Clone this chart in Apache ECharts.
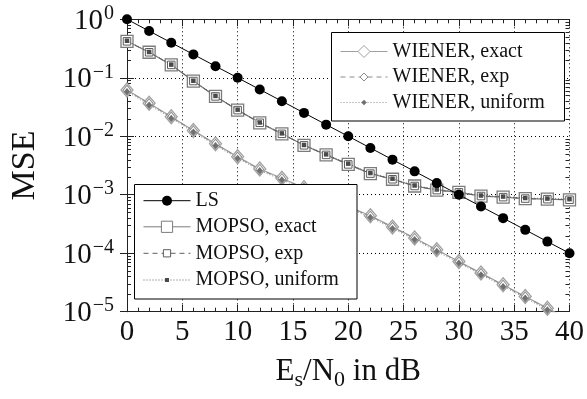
<!DOCTYPE html>
<html><head><meta charset="utf-8">
<script src="https://cdn.jsdelivr.net/npm/echarts@6/dist/echarts.min.js"></script>
<style>html,body{margin:0;padding:0;background:#fff}#c{width:587px;height:399px}</style>
</head><body><div id="c"></div>
<script>
// ---- data ----
const snr = [0,2,4,6,8,10,12,14,16,18,20,22,24,26,28,30,32,34,36,38,40];
const lsMse = [1,0.631,0.398,0.251,0.158,0.1,0.0631,0.0398,0.0251,0.0158,0.01,0.00631,0.00398,0.00251,0.00158,0.001,0.000631,0.000398,0.000251,0.000158,0.0001];
const mopsoExact = [0.42,0.273,0.166,0.088,0.048,0.028,0.017,0.011,0.0070,0.0048,0.0033,0.0023,0.00184,0.00141,0.0012,0.0011,0.00095,0.00091,0.00086,0.00084,0.00082];
const mopsoExp = [0.42,0.273,0.166,0.088,0.048,0.028,0.017,0.011,0.0070,0.0048,0.0033,0.0023,0.00184,0.00141,0.0012,0.0011,0.00095,0.00091,0.00086,0.00084,0.00082];
const mopsoUniform = [0.43,0.276,0.168,0.089,0.049,0.0285,0.0172,0.0112,0.0071,0.0049,0.0034,0.00235,0.00188,0.00144,0.00123,0.00112,0.00097,0.00093,0.00088,0.00086,0.00084];
const wienerExact = [0.0617,0.0366,0.0216,0.0126,0.00741,0.00447,0.00275,0.00191,0.00132,0.000912,0.000631,0.000437,0.000282,0.000182,0.000115,0.0000724,0.0000457,0.0000288,0.0000182,0.0000115,0.0000072];
const wienerExp = [0.0612,0.0362,0.0213,0.0124,0.00732,0.00441,0.00271,0.00188,0.0013,0.0009,0.000622,0.00043,0.000278,0.000179,0.000113,0.0000713,0.000045,0.0000284,0.0000179,0.0000113,0.0000071];
const wienerUniform = [0.058,0.0344,0.0203,0.0118,0.00697,0.0042,0.00259,0.0018,0.00124,0.000857,0.000593,0.000411,0.000265,0.000171,0.000108,0.000068,0.000043,0.0000271,0.0000171,0.0000108,0.0000068];
const xTickValues = [0,5,10,15,20,25,30,35,40];
const yDecadeExponents = [-5,-4,-3,-2,-1,0];
const yMinorMultipliers = [2,3,4,5,6,7,8,9];

// ---- styling ----
const FONT = "'Liberation Serif','Times New Roman',serif";
const AX = '#222';
const xMin = xTickValues[0], xMax = xTickValues[xTickValues.length - 1];
const yMinExp = yDecadeExponents[0], yMaxExp = yDecadeExponents[yDecadeExponents.length - 1];
const pts = arr => snr.map((x, i) => [x, arr[i]]);

// minor tick values on the log axis (2..9 x each decade)
const yMinorTicks = [];
yDecadeExponents.slice(0, -1).forEach(e => yMinorMultipliers.forEach(m => yMinorTicks.push([xMin, m * Math.pow(10, e)])));

const chart = echarts.init(document.getElementById('c'), null, {renderer: 'canvas'});

function supLabel(v) {
  const e = Math.round(Math.log10(v));
  return '{b|10}{s|' + (e < 0 ? '\u2212' + (-e) : String(e)) + '}';
}

const commonX = {
  type: 'value', min: xMin, max: xMax, interval: 5,
  axisLine: {show: true, lineStyle: {color: AX, width: 1}},
  axisTick: {show: true, inside: true, length: 7, lineStyle: {color: AX}},
  minorTick: {show: true, splitNumber: 5, length: 4, lineStyle: {color: AX}},
  splitLine: {show: false}
};
const commonY = {
  type: 'log', logBase: 10, min: Math.pow(10, yMinExp), max: Math.pow(10, yMaxExp),
  axisLine: {show: true, lineStyle: {color: AX, width: 1}},
  axisTick: {show: true, inside: true, length: 7, lineStyle: {color: AX}},
  splitLine: {show: false}
};

function lineSeries(name, arr, o) {
  return Object.assign({
    name, type: 'line', data: pts(arr), clip: true,
    emphasis: {disabled: true}, animation: false
  }, o);
}

const GRAY1 = '#7c7c7c', GRAY2 = '#5e5e5e', DARK = '#4a4a4a';
const WG1 = '#a0a0a0', WG2 = '#8c8c8c', WDARK = '#707070';

const series = [
  {
    type: 'custom', data: yMinorTicks, silent: true, animation: false, z: 1,
    renderItem: function (params, api) {
      const v = api.value(1);
      const pl = api.coord([xMin, v]);
      const pr = api.coord([xMax, v]);
      const y = Math.round(pl[1]) + 0.5;
      return {type: 'group', children: [
        {type: 'line', shape: {x1: pl[0], y1: y, x2: pl[0] + 4, y2: y}, style: {stroke: AX, lineWidth: 1}},
        {type: 'line', shape: {x1: pr[0] - 4, y1: y, x2: pr[0], y2: y}, style: {stroke: AX, lineWidth: 1}}
      ]};
    }
  },
  lineSeries('WIENER, exact', wienerExact, {symbol: 'diamond', symbolSize: [12, 14],
    itemStyle: {color: '#fff', borderColor: WG1, borderWidth: 1.3}, lineStyle: {color: WG1, width: 1.2}, z: 2}),
  lineSeries('WIENER, exp', wienerExp, {symbol: 'diamond', symbolSize: [8, 10],
    itemStyle: {color: '#fff', borderColor: WG2, borderWidth: 1}, lineStyle: {color: WG2, width: 1, type: [5, 4]}, z: 3}),
  lineSeries('WIENER, uniform', wienerUniform, {symbol: 'diamond', symbolSize: [6, 7],
    itemStyle: {color: WDARK}, lineStyle: {color: WG2, width: 1, type: [1, 2]}, z: 4}),
  lineSeries('MOPSO, exact', mopsoExact, {symbol: 'rect', symbolSize: 12,
    itemStyle: {color: '#fff', borderColor: GRAY1, borderWidth: 1.3}, lineStyle: {color: GRAY1, width: 1.2}, z: 5}),
  lineSeries('MOPSO, exp', mopsoExp, {symbol: 'rect', symbolSize: 7.5,
    itemStyle: {color: '#fff', borderColor: GRAY2, borderWidth: 1}, lineStyle: {color: GRAY2, width: 1, type: [5, 4]}, z: 6}),
  lineSeries('MOPSO, uniform', mopsoUniform, {symbol: 'rect', symbolSize: 4.5,
    itemStyle: {color: DARK}, lineStyle: {color: GRAY2, width: 1, type: [1, 2]}, z: 7}),
  lineSeries('LS', lsMse, {symbol: 'circle', symbolSize: 10,
    itemStyle: {color: '#000'}, lineStyle: {color: '#000', width: 1}, z: 8})
];

function legendRow(name, left, centerY, itemHeight) {
  return {
    data: [name], left: left, top: centerY - 10, itemWidth: 47, itemHeight: itemHeight,
    padding: 0, selectedMode: false, z: 20,
    itemStyle: {borderWidth: 1},
    lineStyle: {width: 1},
    textStyle: {fontFamily: FONT, fontSize: 20, lineHeight: 20, color: '#111'}
  };
}

const option = {
  backgroundColor: '#fff',
  animation: false,
  grid: {left: 124.7, right: 14.3, top: 19.3, bottom: 87.3, containLabel: false},
  xAxis: [
    Object.assign({}, commonX, {
      position: 'bottom',
      name: 'E{sub|s}/N{sub|0} in dB', nameLocation: 'middle', nameGap: 41,
      nameTextStyle: {fontFamily: FONT, fontSize: 31, lineHeight: 31, color: '#111',
        rich: {sub: {fontFamily: FONT, fontSize: 22, lineHeight: 22, padding: [18, 0, 0, 0], color: '#111'}}},
      axisLabel: {show: true, margin: 6, fontFamily: FONT, fontSize: 29, color: '#111'},
      splitLine: {show: true, lineStyle: {color: '#000', width: 1, type: [1, 3]}}
    }),
    Object.assign({}, commonX, {position: 'top', axisLabel: {show: false}})
  ],
  yAxis: [
    Object.assign({}, commonY, {
      position: 'left',
      name: 'MSE', nameLocation: 'middle', nameGap: 85,
      nameTextStyle: {fontFamily: FONT, fontSize: 34, color: '#111'},
      axisLabel: {show: true, margin: 13, formatter: supLabel,
        rich: {
          b: {fontFamily: FONT, fontSize: 29, color: '#111', padding: [4, 0, 0, 0]},
          s: {fontFamily: FONT, fontSize: 20, color: '#111', verticalAlign: 'top', padding: [1, 0, 0, 1]}
        }},
      splitLine: {show: true, lineStyle: {color: '#000', width: 1, type: [1, 3]}}
    }),
    Object.assign({}, commonY, {position: 'right', axisLabel: {show: false}})
  ],
  legend: [
    legendRow('WIENER, exact', 340, 51.5, 15),
    legendRow('WIENER, exp', 340, 77, 10),
    legendRow('WIENER, uniform', 340, 102.5, 7),
    legendRow('LS', 143, 200.7, 12.5),
    legendRow('MOPSO, exact', 143, 226.8, 14),
    legendRow('MOPSO, exp', 143, 253.3, 9),
    legendRow('MOPSO, uniform', 143, 280, 5)
  ],
  graphic: [
    {type: 'rect', z: 15, shape: {x: 331.5, y: 32.5, width: 233, height: 88.5},
      style: {fill: '#fff', stroke: '#000', lineWidth: 1}},
    {type: 'rect', z: 15, shape: {x: 134.5, y: 184.5, width: 222.5, height: 114.5},
      style: {fill: '#fff', stroke: '#000', lineWidth: 1}}
  ],
  series: series
};
chart.setOption(option);
</script>
</body></html>
